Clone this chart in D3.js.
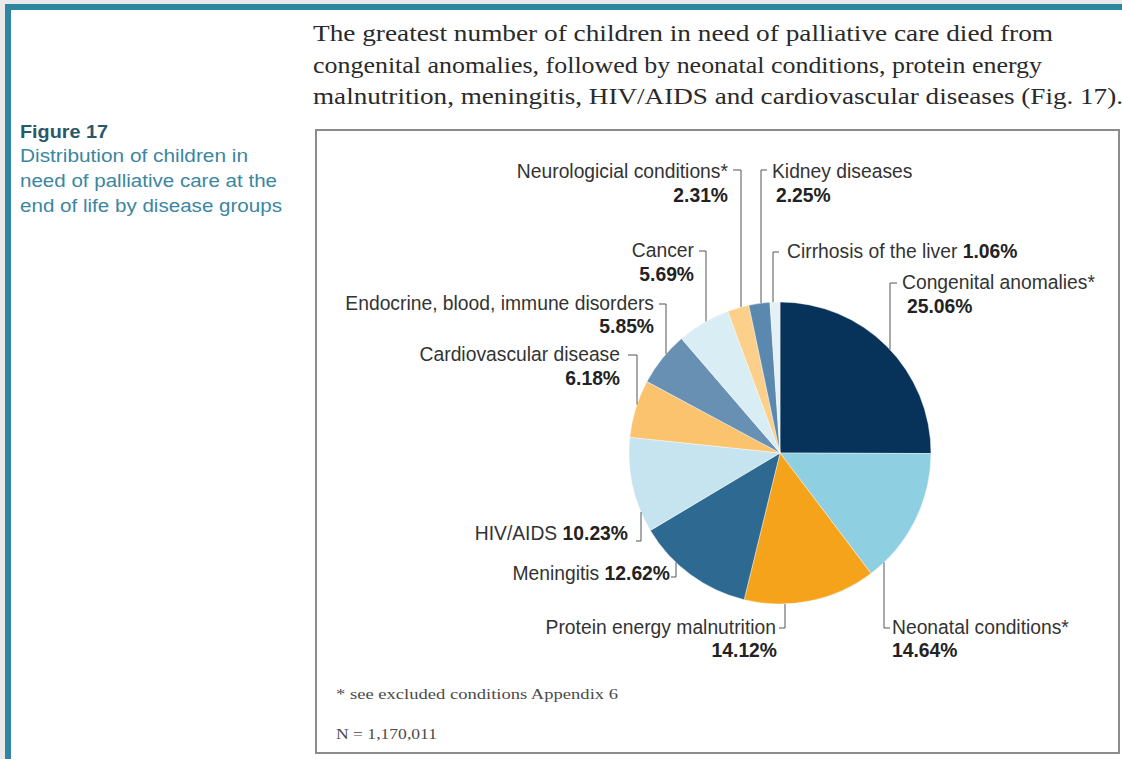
<!DOCTYPE html>
<html><head><meta charset="utf-8">
<script src="https://cdn.jsdelivr.net/npm/d3@7"></script>
<style>html,body{margin:0;padding:0;background:#e8e9e8;}svg{display:block;}</style>
</head><body>
<svg id="chart" width="1122" height="759"></svg>
<script>
// ---- data ----
const categories = ["Congenital anomalies*", "Neonatal conditions*", "Protein energy malnutrition", "Meningitis", "HIV/AIDS", "Cardiovascular disease", "Endocrine, blood, immune disorders", "Cancer", "Neurologicial conditions*", "Kidney diseases", "Cirrhosis of the liver"];
const values = [25.06, 14.64, 14.12, 12.62, 10.23, 6.18, 5.85, 5.69, 2.31, 2.25, 1.06];
const sliceColors = ["#07335a", "#8ed0e1", "#f6a31c", "#2d6990", "#c5e4ef", "#fcc36f", "#6890b3", "#d9edf5", "#fccf8b", "#5b88ae", "#e3f1f7"];
const introLines = ["The greatest number of children in need of palliative care died from", "congenital anomalies, followed by neonatal conditions, protein energy", "malnutrition, meningitis, HIV/AIDS and cardiovascular diseases (Fig. 17)."];
const captionTitle = "Figure 17";
const captionLines = ["Distribution of children in", "need of palliative care at the", "end of life by disease groups"];
const footnote = "* see excluded conditions Appendix 6";
const sampleNote = "N = 1,170,011";

// ---- layout (positions only) ----
const labelLayout = [
  {mode:"two", anchor:"start", nx:902, ny:289, px:907, py:313, lx:890, ty:283, tx:897, side:-1},
  {mode:"two", anchor:"start", nx:892, ny:634, px:892, py:657, lx:884, ty:628, tx:890, side:1},
  {mode:"two", anchor:"end",   nx:776, ny:634, px:777, py:657, lx:785, ty:628, tx:779, side:1},
  {mode:"inline", anchor:"end", nx:670, ny:580, lx:676, ty:577, tx:671, side:1},
  {mode:"inline", anchor:"end", nx:628, ny:540, lx:641, ty:541, tx:636, side:1},
  {mode:"two", anchor:"end",   nx:620, ny:361, px:620, py:385, lx:637, ty:355, tx:628, side:-1},
  {mode:"two", anchor:"end",   nx:654, ny:310, px:654, py:333, lx:666, ty:304, tx:659, side:-1},
  {mode:"two", anchor:"end",   nx:694, ny:257, px:694, py:281, lx:706, ty:251, tx:699, side:-1},
  {mode:"two", anchor:"end",   nx:728, ny:178, px:728, py:202, lx:741, ty:170, tx:733, side:-1},
  {mode:"two", anchor:"start", nx:772, ny:178, px:776, py:202, lx:761, ty:170, tx:767, side:-1},
  {mode:"inline", anchor:"start", nx:787, ny:258, lx:773, ty:252, tx:779, side:-1}
];

const svg = d3.select("#chart");
const W = 1122, H = 759;

// page frame
svg.append("rect").attr("x",0).attr("y",0).attr("width",W).attr("height",H).attr("fill","#e8e9e8");
svg.append("rect").attr("x",5).attr("y",4).attr("width",W-5).attr("height",H-4).attr("fill","#2e86a0");
svg.append("rect").attr("x",11).attr("y",10).attr("width",W-11).attr("height",H-10).attr("fill","#ffffff");

// intro paragraph
const introWidths = [740, 729, 810];
svg.append("g").selectAll("text").data(introLines).join("text")
  .attr("x",313).attr("y",(d,i)=>41 + i*31.5)
  .attr("textLength",(d,i)=>introWidths[i]).attr("lengthAdjust","spacingAndGlyphs")
  .attr("font-family","'Liberation Serif', 'DejaVu Serif', serif").attr("font-size",24)
  .attr("fill","#2a2a2a").text(d=>d);

// caption
svg.append("text").attr("x",20).attr("y",138).attr("font-family","'Liberation Sans', Arial, sans-serif")
  .attr("font-size",18).attr("font-weight","bold").attr("fill","#2b5869")
  .attr("textLength",88).attr("lengthAdjust","spacingAndGlyphs").text(captionTitle);
const capWidths = [228, 257, 262];
svg.append("g").selectAll("text").data(captionLines).join("text")
  .attr("x",20).attr("y",(d,i)=>162 + i*25)
  .attr("font-family","'Liberation Sans', Arial, sans-serif").attr("font-size",17.5)
  .attr("fill","#3b86a0").attr("textLength",(d,i)=>capWidths[i]).attr("lengthAdjust","spacingAndGlyphs")
  .text(d=>d);

// chart box
svg.append("rect").attr("x",316).attr("y",130).attr("width",803).attr("height",623)
  .attr("fill","#ffffff").attr("stroke","#8c8c8c").attr("stroke-width",2);

// pie
const cx = 780, cy = 453, r = 151;
const pie = d3.pie().sort(null).value(d=>d).startAngle(0).endAngle(2*Math.PI);
const arcs = pie(values);
const arc = d3.arc().innerRadius(0).outerRadius(r);
const color = d3.scaleOrdinal().domain(categories).range(sliceColors);
const g = svg.append("g").attr("transform",`translate(${cx},${cy})`);
g.selectAll("path").data(arcs).join("path")
  .attr("d",arc).attr("fill",(d,i)=>color(categories[i]))
  .attr("stroke","#ffffff").attr("stroke-width",0.6).attr("stroke-opacity",0.7);

// labels + leaders
const fmt = v => v.toFixed(2) + "%";
const lab = svg.append("g").attr("font-family","'Liberation Sans', Arial, sans-serif").attr("font-size",19.3);
const leaders = svg.append("g").attr("stroke","#555").attr("stroke-width",1).attr("fill","none");
labelLayout.forEach((L,i)=>{
  const name = categories[i], pct = fmt(values[i]);
  if (L.mode === "two") {
    lab.append("text").attr("x",L.nx).attr("y",L.ny).attr("text-anchor",L.anchor).attr("fill","#333").text(name);
    lab.append("text").attr("x",L.px).attr("y",L.py).attr("text-anchor",L.anchor).attr("fill","#222").attr("font-weight","bold").text(pct);
  } else {
    const t = lab.append("text").attr("x",L.nx).attr("y",L.ny).attr("text-anchor",L.anchor).attr("fill","#333");
    t.append("tspan").text(name + " ");
    t.append("tspan").attr("font-weight","bold").attr("fill","#222").text(pct);
  }
  const dx = L.lx - cx;
  const hitY = cy + L.side * Math.sqrt(Math.max(0, r*r - dx*dx));
  leaders.append("path").attr("d",`M${L.tx},${L.ty}H${L.lx}V${hitY}`);
});

// notes
svg.append("text").attr("x",336).attr("y",699).attr("font-family","'Liberation Serif', serif").attr("font-size",15.5)
  .attr("fill","#4a4a4a").attr("textLength",282).attr("lengthAdjust","spacingAndGlyphs").text(footnote);
svg.append("text").attr("x",336).attr("y",739).attr("font-family","'Liberation Serif', serif").attr("font-size",15.5)
  .attr("fill","#4a4a4a").attr("textLength",101).attr("lengthAdjust","spacingAndGlyphs").text(sampleNote);
</script>
</body></html>
